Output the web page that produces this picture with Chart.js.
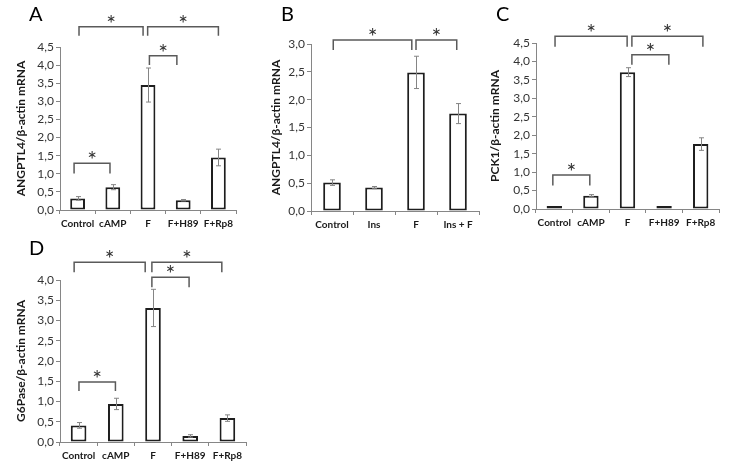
<!DOCTYPE html>
<html>
<head>
<meta charset="utf-8">
<script src="https://cdn.jsdelivr.net/npm/chart.js@4.4.1/dist/chart.umd.min.js"></script>
<style>
    body { margin: 0; background: #fff; }
    #charts { position: relative; width: 731px; height: 469px; }
    #charts canvas { position: absolute; }
</style>
</head>
<body>
<div id="charts"></div>
<script>
// categories
const labels_a = ['Control', 'cAMP', 'F', 'F+H89', 'F+Rp8']
const labels_b = ['Control', 'Ins', 'F', 'Ins + F']

// A: ANGPTL4 (cAMP / F / inhibitors)
const angptl4_a = [0.32, 0.63, 3.45, 0.27, 1.45]
const angptl4_a_err = [0.05, 0.07, 0.47, 0.02, 0.23]
// B: ANGPTL4 (insulin)
const angptl4_b = [0.51, 0.42, 2.49, 1.75]
const angptl4_b_err = [0.05, 0.02, 0.29, 0.18]
// C: PCK1
const pck1 = [0.05, 0.36, 3.71, 0.03, 1.76]
const pck1_err = [0, 0.03, 0.12, 0, 0.17]
// D: G6Pase
const g6pase = [0.41, 0.94, 3.31, 0.15, 0.59]
const g6pase_err = [0.07, 0.14, 0.46, 0.03, 0.08]

// tick labels
const ticks_45 = ['0,0', '0,5', '1,0', '1,5', '2,0', '2,5', '3,0', '3,5', '4,0', '4,5']
const ticks_30 = ['0,0', '0,5', '1,0', '1,5', '2,0', '2,5', '3,0']
const ticks_40 = ['0,0', '0,5', '1,0', '1,5', '2,0', '2,5', '3,0', '3,5', '4,0']

// significance brackets: [from category, to category, top value, leg value]
const sig_a = [[0.04, 1.86, 5.06, 4.81], [1.99, 4.0, 5.06, 4.81], [2.04, 2.82, 4.26, 4.0], [-0.1, 0.92, 1.29, 1.01]]
const sig_b = [[0.03, 1.9, 3.07, 2.89], [2.0, 2.97, 3.07, 2.89]]
const sig_c = [[0.02, 1.99, 4.68, 4.4], [2.12, 4.06, 4.68, 4.4], [2.12, 3.13, 4.18, 3.91], [-0.04, 0.97, 0.92, 0.64]]
const sig_d = [[-0.12, 1.79, 4.44, 4.19], [1.97, 3.85, 4.44, 4.19], [1.97, 2.97, 4.07, 3.82], [0.01, 0.99, 1.48, 1.26]]

const FONT = 'Lato, "Open Sans", sans-serif'

const annotate = {
    id: 'annotate',
    afterDatasetsDraw(chart, args, opts) {
        const ctx = chart.ctx
        const xs = chart.scales.x
        const ys = chart.scales.y
        const meta = chart.getDatasetMeta(0)
        const values = chart.data.datasets[0].data
        ctx.save()
        // error bars
        ctx.strokeStyle = '#858585'
        ctx.lineWidth = 1
        opts.errors.forEach((e, i) => {
            if (!e) return
            const cx = Math.round(meta.data[i].x) + 0.5
            const t = ys.getPixelForValue(values[i] + e)
            const b = ys.getPixelForValue(values[i] - e)
            ctx.beginPath()
            ctx.moveTo(cx, t); ctx.lineTo(cx, b)
            ctx.moveTo(cx - 2.5, t); ctx.lineTo(cx + 2.5, t)
            ctx.moveTo(cx - 2.5, b); ctx.lineTo(cx + 2.5, b)
            ctx.stroke()
        })
        // brackets with stars
        ctx.strokeStyle = '#5a5a5a'
        ctx.lineWidth = 1.5
        ctx.fillStyle = '#333'
        ctx.font = '23px ' + FONT
        ctx.textAlign = 'center'
        ctx.textBaseline = 'alphabetic'
        opts.brackets.forEach(s => {
            const x1 = xs.getPixelForValue(s[0])
            const x2 = xs.getPixelForValue(s[1])
            const yt = ys.getPixelForValue(s[2])
            const yl = ys.getPixelForValue(s[3])
            ctx.beginPath()
            ctx.moveTo(x1, yl); ctx.lineTo(x1, yt); ctx.lineTo(x2, yt); ctx.lineTo(x2, yl)
            ctx.stroke()
            ctx.fillText('*', (x1 + x2) / 2, yt + 5)
        })
        // panel letter
        ctx.font = '20px ' + FONT
        ctx.fillStyle = '#000'
        ctx.textAlign = 'left'
        ctx.fillText(opts.letter, opts.letterX, opts.letterY)
        ctx.restore()
    }
}

function make_panel(p) {
    const canvas = document.createElement('canvas')
    canvas.width = p.w
    canvas.height = p.h
    canvas.style.left = p.left + 'px'
    canvas.style.top = p.top + 'px'
    document.getElementById('charts').append(canvas)

    return new Chart(canvas, {
        type: 'bar',
        data: {
            labels: p.labels,
            datasets: [{
                data: p.values,
                backgroundColor: '#ffffff',
                borderColor: '#1e1e1e',
                borderWidth: 2,
                borderSkipped: false,
                minBarLength: 3,
                categoryPercentage: 1,
                barPercentage: 0.42
            }]
        },
        options: {
            responsive: false,
            animation: false,
            devicePixelRatio: 1,
            layout: { padding: { left: 0, right: p.padR, top: p.padT, bottom: 0 } },
            plugins: {
                legend: { display: false },
                tooltip: { enabled: false },
                annotate: { errors: p.errors, brackets: p.brackets, letter: p.letter, letterX: p.letterX, letterY: p.letterY }
            },
            scales: {
                x: {
                    afterFit(scale) { scale.height = p.xH },
                    border: { color: '#868686', width: 1 },
                    grid: { drawOnChartArea: false, drawTicks: true, tickLength: 4, color: '#868686', offset: true },
                    ticks: {
                        autoSkip: false, maxRotation: 0, padding: 4, color: '#1a1a1a',
                        font: { family: FONT, size: 10, weight: 'bold' }
                    }
                },
                y: {
                    min: 0, max: p.max,
                    afterFit(scale) { scale.width = p.yW },
                    border: { color: '#868686', width: 1 },
                    grid: { drawOnChartArea: false, drawTicks: true, tickLength: 4, color: '#868686' },
                    ticks: {
                        stepSize: 0.5, autoSkip: false, padding: 2, color: '#333',
                        font: { family: FONT, size: 12 },
                        callback: (v, i) => p.ticks[i]
                    },
                    title: {
                        display: true, text: p.title, color: '#1a1a1a',
                        padding: { top: p.titlePad, bottom: 0 },
                        font: { family: FONT, size: 12, weight: 'bold' }
                    }
                }
            }
        },
        plugins: [annotate]
    })
}

make_panel({ left: 0, top: 0, w: 245, h: 235, yW: 60, xH: 25, padT: 47, padR: 9, titlePad: 14,
    labels: labels_a, values: angptl4_a, errors: angptl4_a_err, brackets: sig_a, max: 4.5, ticks: ticks_45,
    title: 'ANGPTL4/β-actin mRNA', letter: 'A', letterX: 29, letterY: 21 })

make_panel({ left: 245, top: 0, w: 240, h: 235, yW: 66, xH: 24, padT: 44, padR: 6, titlePad: 24,
    labels: labels_b, values: angptl4_b, errors: angptl4_b_err, brackets: sig_b, max: 3.0, ticks: ticks_30,
    title: 'ANGPTL4/β-actin mRNA', letter: 'B', letterX: 36, letterY: 21 })

make_panel({ left: 485, top: 0, w: 246, h: 235, yW: 51, xH: 26, padT: 43, padR: 12, titlePad: 3,
    labels: labels_a, values: pck1, errors: pck1_err, brackets: sig_c, max: 4.5, ticks: ticks_45,
    title: 'PCK1/β-actin mRNA', letter: 'C', letterX: 11, letterY: 21 })

make_panel({ left: 0, top: 235, w: 250, h: 234, yW: 60, xH: 27, padT: 45, padR: 4, titlePad: 14,
    labels: labels_a, values: g6pase, errors: g6pase_err, brackets: sig_d, max: 4.0, ticks: ticks_40,
    title: 'G6Pase/β-actin mRNA', letter: 'D', letterX: 29, letterY: 20 })
</script>
</body>
</html>
